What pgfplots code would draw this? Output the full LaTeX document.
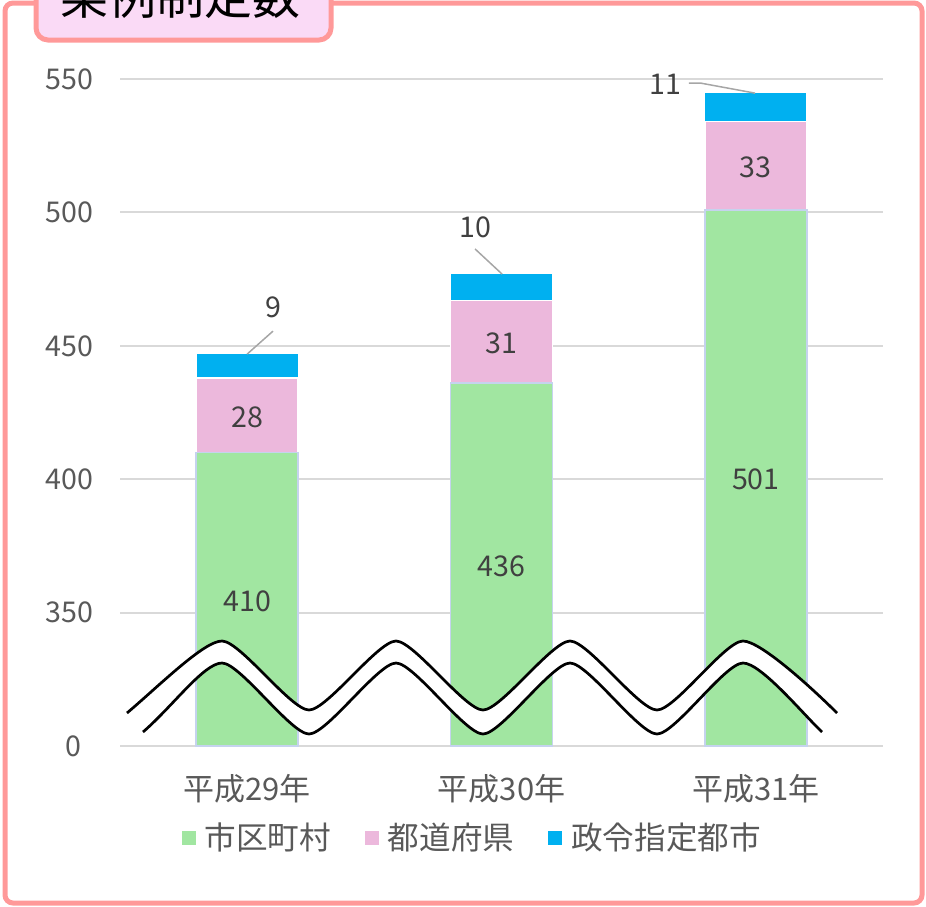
\documentclass[border=0pt]{standalone}
\usepackage{fontspec}
\setmainfont{Noto Sans CJK JP}
\usepackage{pgfplots}
\pgfplotsset{compat=1.18}
\definecolor{cGreen}{HTML}{A1E6A1}
\definecolor{cPink}{HTML}{ECB8DC}
\definecolor{cBlue}{HTML}{00B0F0}
\definecolor{cBorder}{HTML}{FF9999}
\definecolor{cTitle}{HTML}{FADAF6}
\definecolor{cGrid}{HTML}{D9D9D9}
\definecolor{cTick}{HTML}{595959}
\definecolor{cLabel}{HTML}{404040}
\definecolor{cEdge}{HTML}{C5D3EE}
\definecolor{cLeader}{HTML}{A6A6A6}
\begin{document}
\begin{tikzpicture}
\useasboundingbox (0,0) rectangle (463pt,-453pt);
\clip (0,0) rectangle (463pt,-453pt);
\begin{axis}[
  at={(60pt,-373pt)}, anchor=south west, scale only axis,
  width=381.5pt, height=333.5pt,
  xmin=-0.5, xmax=2.5, ymin=300, ymax=550,
  ybar stacked, bar width=51pt,
  xtick={0,1,2}, xticklabels={平成29年,平成30年,平成31年},
  ytick={300,350,400,450,500,550},
  yticklabels={0\kern6pt,350,400,450,500,550},
  ymajorgrids, grid style={cGrid, line width=1pt},
  axis line style={draw=none}, tick style={draw=none},
  /pgf/number format/assume math mode=true,
  yticklabel style={font=\fontsize{14.3}{16}\selectfont, text=cTick, xshift=-10pt},
  xticklabel style={font=\fontsize{15.5}{17}\selectfont, text=cTick, yshift=-10.5pt},
  legend style={at={(0.463,-0.138)}, anchor=center, draw=none, fill=none,
    legend columns=3, font=\fontsize{15.8}{18}\selectfont, text=cTick,
    /tikz/every even column/.append style={column sep=15pt}},
  legend image code/.code={\fill[#1, draw=none] (0pt,-3.5pt) rectangle (7pt,3.5pt); \path[draw=none, fill=none] (0pt,0pt) -- (9.5pt,0pt);},
]
\addplot[fill=cGreen, draw=cEdge, line width=0.8pt] coordinates {(0,410) (1,436) (2,501)};
\addplot[fill=cPink, draw=white, line width=0.8pt] coordinates {(0,28) (1,31) (2,33)};
\addplot[fill=cBlue, draw=white, line width=0.5pt] coordinates {(0,9) (1,10) (2,11)};
\legend{市区町村,都道府県,政令指定都市}
\end{axis}
\begin{axis}[
  at={(60pt,-373pt)}, anchor=south west, scale only axis,
  width=381.5pt, height=333.5pt,
  xmin=-0.5, xmax=2.5, ymin=300, ymax=550,
  hide axis, clip=false,
]
\addplot[draw=cLeader, line width=0.75pt] coordinates {(0,446.9) (0.1016,455.5)};
\addplot[draw=cLeader, line width=0.75pt] coordinates {(1.002,476.9) (0.896,486.3)};
\addplot[draw=cLeader, line width=0.75pt] coordinates {(1.997,544.7) (1.781,548.5) (1.737,548.5)};
\addplot[draw=none, mark=none, nodes near coords, point meta=explicit symbolic,
  nodes near coords align={center},
  every node near coord/.append style={font=\fontsize{14.3}{16}\selectfont, text=cLabel}]
  coordinates {(0,354.3)[410] (1,367.5)[436] (2,400.1)[501]
               (0,423.3)[28] (1,451.0)[31] (2,517.0)[33]
               (0.102,464.5)[9] (0.896,494.5)[10] (1.643,548.1)[11]};
\end{axis}
\begin{scope}[x=0.5pt, y=-0.5pt]
% break wave
\path[fill=white] (127,713) .. controls (160,685) and (204,641) .. (222,641)
  .. controls (240,641) and (291,710) .. (309,710)
  .. controls (327,710) and (378,641) .. (396,641)
  .. controls (414,641) and (465,710) .. (483,710)
  .. controls (501,710) and (552,641) .. (570,641)
  .. controls (588,641) and (639,710) .. (657,710)
  .. controls (675,710) and (725,641) .. (743,641)
  .. controls (761,641) and (815,691) .. (837,713)
  -- (822,732)
  .. controls (803,714) and (761,663) .. (743,663)
  .. controls (725,663) and (675,734) .. (657,734)
  .. controls (639,734) and (588,663) .. (570,663)
  .. controls (552,663) and (501,734) .. (483,734)
  .. controls (465,734) and (414,663) .. (396,663)
  .. controls (378,663) and (327,734) .. (309,734)
  .. controls (291,734) and (240,663) .. (222,663)
  .. controls (204,663) and (173,706) .. (143,732) -- cycle;
\draw[black, line width=1.35pt] (127,713) .. controls (160,685) and (204,641) .. (222,641)
  .. controls (240,641) and (291,710) .. (309,710)
  .. controls (327,710) and (378,641) .. (396,641)
  .. controls (414,641) and (465,710) .. (483,710)
  .. controls (501,710) and (552,641) .. (570,641)
  .. controls (588,641) and (639,710) .. (657,710)
  .. controls (675,710) and (725,641) .. (743,641)
  .. controls (761,641) and (815,691) .. (837,713);
\draw[black, line width=1.35pt] (822,732)
  .. controls (803,714) and (761,663) .. (743,663)
  .. controls (725,663) and (675,734) .. (657,734)
  .. controls (639,734) and (588,663) .. (570,663)
  .. controls (552,663) and (501,734) .. (483,734)
  .. controls (465,734) and (414,663) .. (396,663)
  .. controls (378,663) and (327,734) .. (309,734)
  .. controls (291,734) and (240,663) .. (222,663)
  .. controls (204,663) and (173,706) .. (143,732);
% frame
\draw[cBorder, line width=2.5pt, rounded corners=4pt] (5,3) rectangle (922,903);
\draw[cBorder, fill=cTitle, line width=2.5pt, rounded corners=6pt] (36,-30) rectangle (331,40);
\node[anchor=base, font=\fontsize{24}{28}\selectfont, text=black, inner sep=0pt] at (181,14) {条例制定数};
\end{scope}
\end{tikzpicture}
\end{document}
